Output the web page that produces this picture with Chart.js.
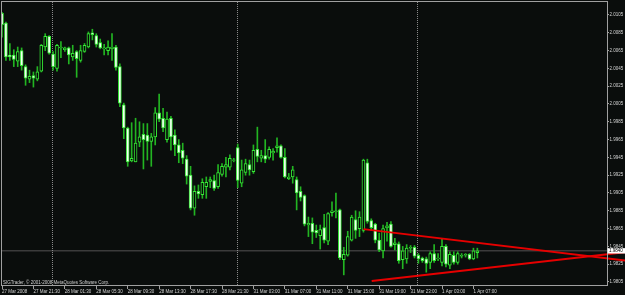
<!DOCTYPE html>
<html><head><meta charset="utf-8">
<style>html,body{margin:0;padding:0;background:#0a0d0c;overflow:hidden}canvas{display:block}</style>
<script src="https://cdn.jsdelivr.net/npm/chart.js@4.4.0/dist/chart.umd.min.js"></script>
</head><body>
<canvas id="c" width="625" height="295"></canvas>
<script>
// ---- data (GBPUSD M30) ----
const opens = [2.0107,2.0096,2.0060,2.0060,2.0053,2.0065,2.0047,2.0033,2.0037,2.0033,
2.0042,2.0069,2.0081,2.0061,2.0045,2.0068,2.0066,2.0068,2.0058,2.0064,
2.0054,2.0064,2.0069,2.0085,2.0082,2.0074,2.0067,2.0065,2.0067,2.0069,
2.0047,2.0004,1.9978,1.9941,1.9940,1.9962,1.9971,1.9970,1.9963,1.9968,
1.9995,1.9989,1.9965,1.9989,1.9970,1.9959,1.9953,1.9943,1.9925,1.9888,
1.9907,1.9903,1.9912,1.9918,1.9919,1.9912,1.9926,1.9934,1.9934,1.9942,
1.9956,1.9916,1.9928,1.9937,1.9929,1.9954,1.9944,1.9947,1.9945,1.9950,
1.9956,1.9958,1.9945,1.9921,1.9923,1.9920,1.9907,1.9902,1.9869,1.9871,
1.9863,1.9857,1.9866,1.9851,1.9883,1.9884,1.9886,1.9830,1.9835,1.9852,
1.9875,1.9865,1.9863,1.9939,1.9874,1.9870,1.9852,1.9840,1.9866,1.9870,
1.9847,1.9848,1.9830,1.9831,1.9843,1.9844,1.9835,1.9832,1.9831,1.9827,
1.9837,1.9831,1.9827,1.9845,1.9824,1.9835,1.9827,1.9834,1.9835,1.9836,
1.9831,1.9838];
const highs = [2.0108,2.0097,2.0073,2.0066,2.0069,2.0068,2.0049,2.0043,2.0041,2.0047,
2.0072,2.0084,2.0082,2.0064,2.0072,2.0075,2.0069,2.0069,2.0071,2.0065,
2.0071,2.0073,2.0086,2.0089,2.0084,2.0078,2.0072,2.0076,2.0084,2.0071,
2.0050,2.0006,1.9979,1.9984,1.9989,1.9985,1.9983,1.9983,1.9972,2.0001,
2.0016,2.0000,1.9996,1.9991,1.9976,1.9965,1.9961,1.9947,1.9935,1.9913,
1.9914,1.9921,1.9923,1.9923,1.9925,1.9937,1.9938,1.9945,1.9948,1.9944,
1.9960,1.9942,1.9943,1.9942,1.9959,1.9979,1.9953,1.9965,1.9957,1.9955,
1.9967,1.9959,1.9955,1.9927,1.9935,1.9923,1.9912,1.9903,1.9878,1.9877,
1.9869,1.9869,1.9881,1.9883,1.9895,1.9905,1.9887,1.9844,1.9862,1.9880,
1.9885,1.9884,1.9943,1.9943,1.9876,1.9871,1.9860,1.9869,1.9872,1.9873,
1.9854,1.9850,1.9845,1.9847,1.9846,1.9846,1.9837,1.9833,1.9833,1.9839,
1.9847,1.9837,1.9853,1.9847,1.9839,1.9839,1.9839,1.9837,1.9837,1.9837,
1.9843,1.9843];
const lows = [2.0080,2.0054,2.0054,2.0047,2.0047,2.0043,2.0026,2.0029,2.0024,2.0031,
2.0041,2.0065,2.0061,2.0043,2.0042,2.0057,2.0064,2.0050,2.0054,2.0035,
2.0052,2.0063,2.0068,2.0077,2.0069,2.0067,2.0060,2.0060,2.0054,2.0043,
2.0002,1.9966,1.9935,1.9940,1.9940,1.9957,1.9932,1.9942,1.9935,1.9959,
1.9985,1.9974,1.9962,1.9953,1.9947,1.9939,1.9938,1.9915,1.9886,1.9880,
1.9899,1.9899,1.9899,1.9911,1.9908,1.9910,1.9924,1.9923,1.9931,1.9940,
1.9911,1.9912,1.9925,1.9925,1.9927,1.9940,1.9940,1.9939,1.9943,1.9942,
1.9951,1.9944,1.9922,1.9920,1.9916,1.9886,1.9896,1.9868,1.9856,1.9848,
1.9855,1.9842,1.9849,1.9847,1.9879,1.9877,1.9830,1.9813,1.9834,1.9851,
1.9854,1.9856,1.9861,1.9871,1.9863,1.9849,1.9839,1.9832,1.9851,1.9844,
1.9841,1.9826,1.9820,1.9826,1.9838,1.9832,1.9826,1.9827,1.9816,1.9820,
1.9827,1.9829,1.9823,1.9822,1.9820,1.9825,1.9825,1.9832,1.9833,1.9830,
1.9830,1.9832];
const closes = [2.0094,2.0058,2.0058,2.0055,2.0064,2.0048,2.0034,2.0036,2.0034,2.0041,
2.0071,2.0081,2.0062,2.0047,2.0071,2.0069,2.0068,2.0060,2.0062,2.0056,
2.0065,2.0071,2.0084,2.0083,2.0072,2.0068,2.0068,2.0069,2.0069,2.0046,
2.0006,1.9978,1.9940,1.9944,1.9961,1.9968,1.9965,1.9963,1.9968,1.9995,
1.9988,1.9978,1.9988,1.9968,1.9959,1.9950,1.9944,1.9924,1.9888,1.9907,
1.9904,1.9917,1.9917,1.9920,1.9910,1.9928,1.9935,1.9937,1.9944,1.9942,
1.9919,1.9931,1.9938,1.9931,1.9953,1.9946,1.9947,1.9943,1.9954,1.9952,
1.9958,1.9945,1.9923,1.9923,1.9931,1.9905,1.9900,1.9870,1.9871,1.9861,
1.9860,1.9864,1.9852,1.9882,1.9885,1.9885,1.9832,1.9836,1.9856,1.9878,
1.9863,1.9878,1.9942,1.9873,1.9866,1.9852,1.9841,1.9865,1.9868,1.9845,
1.9849,1.9829,1.9840,1.9843,1.9844,1.9834,1.9831,1.9829,1.9826,1.9837,
1.9829,1.9832,1.9845,1.9825,1.9836,1.9827,1.9837,1.9835,1.9836,1.9831,
1.9840,1.9840];
const shiftBars = 33;                 // empty bar slots right of the last candle
const xTickEvery = 8;
const xTickLabels = ['27 Mar 2008','27 Mar 21:30','28 Mar 01:30','28 Mar 05:30','28 Mar 09:30',
'28 Mar 13:30','28 Mar 17:30','28 Mar 21:30','31 Mar 03:00','31 Mar 07:00','31 Mar 11:00',
'31 Mar 15:00','31 Mar 19:00','31 Mar 23:00','1 Apr 03:00','1 Apr 07:00'];
const yTickValues = [2.0105,2.0085,2.0065,2.0045,2.0025,2.0005,1.9985,1.9965,1.9945,1.9925,
1.9905,1.9885,1.9865,1.9845,1.9825,1.9805];
const yMin = 1.98005, yMax = 2.01196;
const daySeparators = [13, 60, 106];
const trendLineA = [{x: 92, y: 1.98644}, {x: 158.6, y: 1.98292}];
const trendLineB = [{x: 94.1, y: 1.98060}, {x: 158.6, y: 1.98383}];
const copyrightText = 'SIGTrader, \u00a9 2001-2008 MetaQuotes Software Corp.';

// ---- styles ----
const BG = '#0a0d0c', AXIS = '#a0a0a0', TXT = '#d4d4d4', FONT = 'Liberation Sans';
const labels = Array.from({length: opens.length}, (_, i) => i);
const lastSlot = opens.length - 1 + shiftBars;
const wicks = lows.map((l, i) => [l, highs[i]]);
const bodies = opens.map((o, i) => {
  let a = Math.min(o, closes[i]), b = Math.max(o, closes[i]);
  if (b - a < 0.00008) { const m = (a + b) / 2; a = m - 0.00004; b = m + 0.00004; }
  return [a, b];
});
const bodyFill = opens.map((o, i) => closes[i] >= o ? '#050807' : '#f2fff2');

const decor = {
  id: 'decor',
  beforeDraw(chart) {
    const {ctx, width, height} = chart;
    ctx.save(); ctx.fillStyle = BG; ctx.fillRect(0, 0, width, height); ctx.restore();
  },
  beforeDatasetsDraw(chart) {
    const {ctx, chartArea: a, scales: {x, y}} = chart;
    ctx.save();
    const yb = y.getPixelForValue(closes[closes.length - 1]);
    ctx.strokeStyle = '#3b3b3b'; ctx.lineWidth = 1.5;
    ctx.beginPath(); ctx.moveTo(a.left, yb); ctx.lineTo(a.right, yb); ctx.stroke();
    ctx.strokeStyle = '#8a8a8a'; ctx.lineWidth = 1; ctx.setLineDash([1, 1]);
    daySeparators.forEach(i => {
      const px = Math.round(x.getPixelForValue(i)) - 0.5;
      ctx.beginPath(); ctx.moveTo(px, a.top); ctx.lineTo(px, a.bottom); ctx.stroke();
    });
    ctx.restore();
  },
  afterDatasetsDraw(chart) {
    const {ctx, chartArea: a} = chart;
    ctx.save();
    ctx.strokeStyle = AXIS; ctx.lineWidth = 1;
    ctx.strokeRect(a.left - 0.5, a.top - 0.5, a.right - a.left + 1, a.bottom - a.top);
    ctx.fillStyle = '#cfcfcf'; ctx.font = '4.5px "' + FONT + '"';
    ctx.textBaseline = 'alphabetic'; ctx.textAlign = 'left';
    ctx.fillText(copyrightText, a.left + 1, a.bottom - 2);
    ctx.restore();
  },
  afterDraw(chart) {
    const {ctx, chartArea: a, scales: {y}} = chart;
    const last = closes[closes.length - 1];
    const yb = y.getPixelForValue(last);
    ctx.save();
    ctx.fillStyle = '#ffffff'; ctx.fillRect(a.right + 0.5, yb - 2.7, 18, 5.4);
    ctx.fillStyle = '#000000'; ctx.font = '4.5px "' + FONT + '"';
    ctx.textBaseline = 'middle'; ctx.textAlign = 'left';
    ctx.fillText(last.toFixed(4), a.right + 2, yb + 0.2);
    ctx.restore();
  }
};

new Chart(document.getElementById('c'), {
  type: 'bar',
  data: {
    labels,
    datasets: [
      {type: 'line', data: trendLineA, borderColor: '#e60000', borderWidth: 2,
       pointRadius: 0, clip: false, order: 0},
      {type: 'line', data: trendLineB, borderColor: '#e60000', borderWidth: 2,
       pointRadius: 0, clip: false, order: 0},
      {type: 'bar', data: bodies, backgroundColor: bodyFill, borderColor: '#36e836', borderWidth: 1,
       borderSkipped: false, barThickness: 3, grouped: false, order: 1},
      {type: 'bar', data: wicks, backgroundColor: '#22b422', borderWidth: 0,
       barThickness: 1, grouped: false, order: 2}
    ]
  },
  options: {
    responsive: false, animation: false, devicePixelRatio: 1, events: [],
    layout: {padding: {left: 2, top: 2, right: 0, bottom: 0}},
    plugins: {legend: {display: false}, tooltip: {enabled: false}},
    scales: {
      x: {
        type: 'linear', offset: false, position: 'bottom', min: 0, max: lastSlot,
        grid: {drawOnChartArea: false, drawTicks: true, tickLength: 3, color: AXIS, offset: false},
        border: {display: false},
        ticks: {autoSkip: false, maxRotation: 0, minRotation: 0, align: 'start', padding: 0,
          color: TXT, font: {family: FONT, size: 4.5},
          callback: v => xTickLabels[v / xTickEvery]},
        afterBuildTicks: s => { s.ticks = xTickLabels.map((_, k) => ({value: k * xTickEvery})); },
        afterFit: s => { s.height = 9; s.paddingLeft = 0; s.paddingRight = 0; }
      },
      y: {
        type: 'linear', position: 'right', min: yMin, max: yMax,
        grid: {drawOnChartArea: false, drawTicks: true, tickLength: 2, color: AXIS},
        border: {display: false},
        ticks: {padding: 0.5, color: TXT, font: {family: FONT, size: 4.5}, callback: v => v.toFixed(4)},
        afterBuildTicks: s => { s.ticks = yTickValues.map(v => ({value: v})); },
        afterFit: s => { s.width = 18; s.paddingTop = 0; s.paddingBottom = 0; }
      }
    }
  },
  plugins: [decor]
});
</script>
</body></html>
